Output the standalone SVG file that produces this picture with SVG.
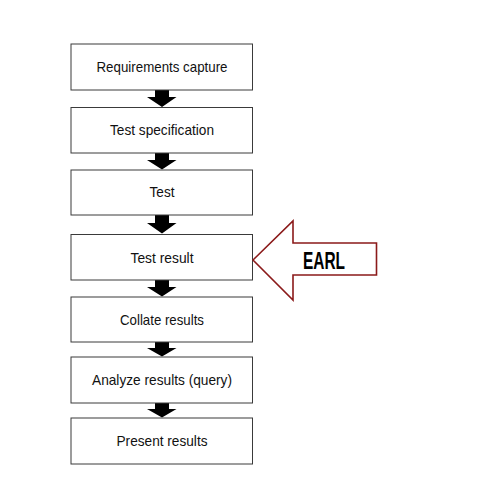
<svg xmlns="http://www.w3.org/2000/svg" width="500" height="500" viewBox="0 0 500 500">
<style>
.box{fill:#fff;stroke:#3a3a3a;stroke-width:1}
.lbl{font-family:"Liberation Sans",Arial,sans-serif;font-size:15px;fill:#111;text-anchor:middle}
.flow{fill:#000;stroke:none}
.earl{fill:#fff;stroke:#8b1a1a;stroke-width:1.6}
.earltxt{font-family:"Liberation Sans",Arial,sans-serif;font-size:23px;font-weight:bold;fill:#000;text-anchor:middle}
</style>
<rect width="500" height="500" fill="#fff"/>
<g id="connectors">
<polygon class="flow" points="155,90 169,90 169,97 176.5,97 162,107 147,97 155,97"/>
<polygon class="flow" points="155,153 169,153 169,160 176.5,160 162,169.5 147,160 155,160"/>
<polygon class="flow" points="155,215 169,215 169,223 176.5,223 162,233.5 147,223 155,223"/>
<polygon class="flow" points="155,280 169,280 169,287 176.5,287 162,296.5 147,287 155,287"/>
<polygon class="flow" points="155,342 169,342 169,348 176.5,348 162,356.5 147,348 155,348"/>
<polygon class="flow" points="155,403 169,403 169,409 176.5,409 162,417.5 147,409 155,409"/>
</g>
<g id="n1"><rect class="box" x="71" y="44" width="181.5" height="46"/><text class="lbl" x="162" y="72" textLength="131" lengthAdjust="spacingAndGlyphs">Requirements capture</text></g>
<g id="n2"><rect class="box" x="71" y="107.5" width="181.5" height="45.5"/><text class="lbl" x="162" y="135" textLength="104" lengthAdjust="spacingAndGlyphs">Test specification</text></g>
<g id="n3"><rect class="box" x="71" y="170" width="181.5" height="45"/><text class="lbl" x="162" y="197" textLength="25" lengthAdjust="spacingAndGlyphs">Test</text></g>
<g id="n4"><rect class="box" x="71" y="234.5" width="181.5" height="45.5"/><text class="lbl" x="162" y="262.5" textLength="63" lengthAdjust="spacingAndGlyphs">Test result</text></g>
<g id="n5"><rect class="box" x="71" y="297" width="181.5" height="45"/><text class="lbl" x="162" y="324.5" textLength="84" lengthAdjust="spacingAndGlyphs">Collate results</text></g>
<g id="n6"><rect class="box" x="71" y="357" width="181.5" height="46"/><text class="lbl" x="162" y="385" textLength="140" lengthAdjust="spacingAndGlyphs">Analyze results (query)</text></g>
<g id="n7"><rect class="box" x="71" y="418" width="181.5" height="46"/><text class="lbl" x="162" y="446" textLength="91" lengthAdjust="spacingAndGlyphs">Present results</text></g>
<g id="earl">
<polygon class="earl" points="253,260 293,221 293,243 376.5,243 376.5,275 293,275 293,300"/>
<text class="earltxt" x="324" y="268.5" textLength="42" lengthAdjust="spacingAndGlyphs">EARL</text>
</g>
</svg>
